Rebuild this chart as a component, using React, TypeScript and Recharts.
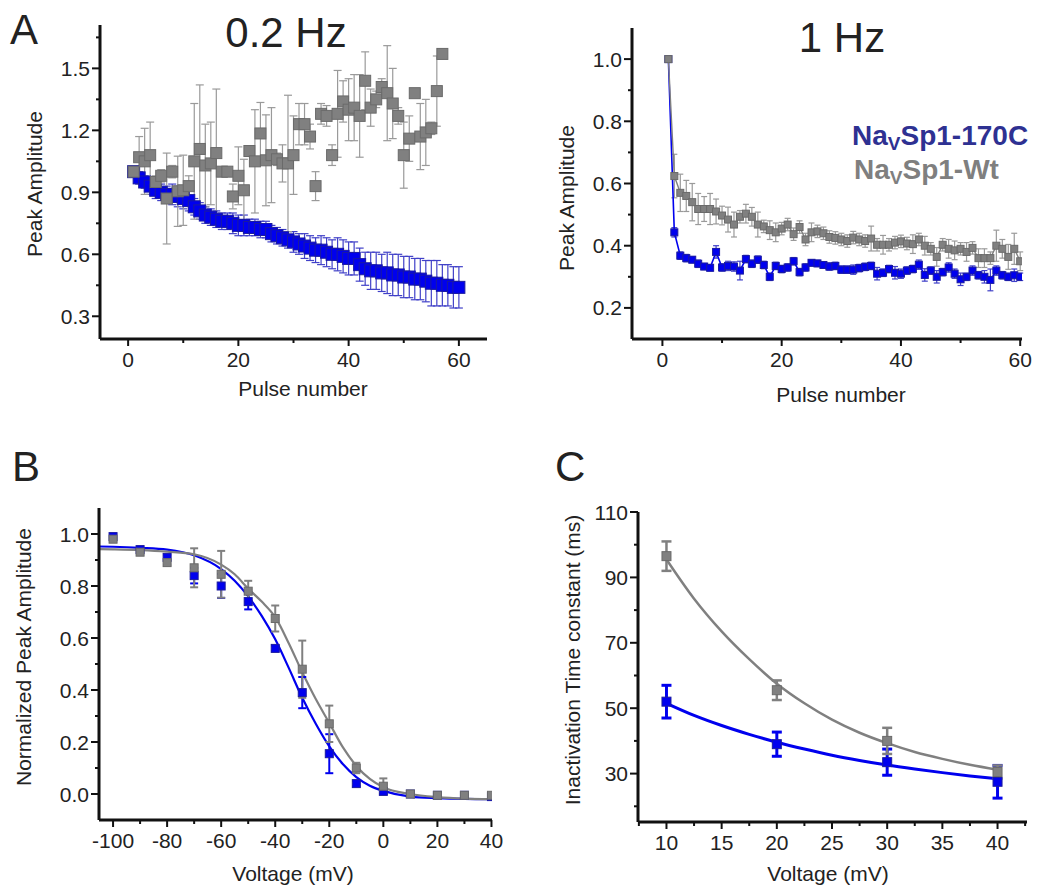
import React from "react";
import { ComposedChart, Scatter, Line, XAxis, YAxis, ErrorBar } from "recharts";

const FONT = '"Liberation Sans", Arial, Helvetica, sans-serif';
const BLUE = "#0000ee";
const BLUE_EDGE = "#1a1aa0";
const BLUE_BAR = "#4040c8";
const GRAY = "#808080";
const GRAY_EDGE = "#6a6a6a";
const GRAY_BAR = "#9a9a9a";

// ---- panel A, 0.2 Hz ----
const pulses = [
  1, 2, 3, 4, 5, 6, 7, 8, 9, 10, 11, 12, 13, 14, 15, 16, 17, 18, 19, 20,
  21, 22, 23, 24, 25, 26, 27, 28, 29, 30, 31, 32, 33, 34, 35, 36, 37, 38, 39, 40,
  41, 42, 43, 44, 45, 46, 47, 48, 49, 50, 51, 52, 53, 54, 55, 56, 57, 58, 59, 60,
];
const slowMut = [
  1.0, 0.97, 0.95, 0.93, 0.91, 0.9, 0.89, 0.89, 0.88, 0.87, 0.86, 0.83, 0.81, 0.79, 0.78,
  0.77, 0.76, 0.76, 0.75, 0.74, 0.74, 0.73, 0.73, 0.72, 0.72, 0.7, 0.69, 0.68, 0.67, 0.66,
  0.65, 0.64, 0.63, 0.62, 0.62, 0.61, 0.6, 0.6, 0.59, 0.58, 0.58, 0.55, 0.53, 0.52, 0.52,
  0.51, 0.51, 0.5, 0.5, 0.49, 0.49, 0.48, 0.48, 0.47, 0.46, 0.46, 0.45, 0.45, 0.44, 0.44,
];
const slowMutErr = [
  0, 0.03, 0.03, 0.04, 0.04, 0.04, 0.04, 0.05, 0.05, 0.05, 0.05, 0.04, 0.04, 0.04, 0.04,
  0.04, 0.04, 0.04, 0.05, 0.05, 0.05, 0.04, 0.04, 0.04, 0.04, 0.04, 0.04, 0.04, 0.04, 0.05,
  0.05, 0.06, 0.06, 0.06, 0.07, 0.07, 0.07, 0.08, 0.08, 0.08, 0.08, 0.08, 0.08, 0.09, 0.09,
  0.09, 0.1, 0.1, 0.1, 0.1, 0.1, 0.1, 0.1, 0.1, 0.11, 0.11, 0.1, 0.1, 0.1, 0.1,
];
const slowWt = [
  1.0, 1.07, 1.05, 1.08, 0.95, 0.98, 0.87, 1.0, 0.905, 0.91, 0.93, 1.05, 1.11, 1.03, 1.04,
  1.09, 1.0, 1.0, 0.88, 0.98, 0.91, 1.1, 1.05, 1.185, 1.055, 1.08, 1.06, 1.04, 1.04, 1.08,
  1.23, 1.23, 1.17, 0.93, 1.28, 1.27, 1.08, 1.28, 1.34, 1.3, 1.31, 1.27, 1.44, 1.31, 1.35,
  1.41, 1.38, 1.33, 1.27, 1.08, 1.16, 1.38, 1.17, 1.19, 1.21, 1.39, 1.57,
];
const slowWtErr = [
  0, 0.1, 0.16, 0.16, 0.03, 0.03, 0.22, 0.03, 0.17, 0.17, 0.05, 0.28, 0.31, 0.2, 0.2,
  0.31, 0.02, 0.02, 0.06, 0.14, 0.15, 0.02, 0.25, 0.15, 0.22, 0.23, 0.03, 0.09, 0.33, 0.19,
  0.1, 0.1, 0.06, 0.07, 0.05, 0.05, 0.05, 0.21, 0.1, 0.15, 0.16, 0.2, 0.14, 0.09, 0.04,
  0.04, 0.23, 0.17, 0.04, 0.16, 0.11, 0.01, 0.16, 0.16, 0.03, 0.17, 0,
];

// ---- panel A, 1 Hz ----
const fastMut = [
  1.0, 0.443, 0.368, 0.36, 0.355, 0.342, 0.333, 0.329, 0.38, 0.33, 0.335, 0.333, 0.32, 0.357, 0.342,
  0.355, 0.338, 0.3, 0.335, 0.325, 0.33, 0.35, 0.315, 0.33, 0.345, 0.343, 0.338, 0.333, 0.335, 0.323,
  0.323, 0.323, 0.328, 0.332, 0.335, 0.31, 0.313, 0.325, 0.313, 0.31, 0.32, 0.325, 0.339, 0.306, 0.32,
  0.3, 0.315, 0.33, 0.31, 0.292, 0.3, 0.32, 0.305, 0.3, 0.29, 0.32, 0.305, 0.3, 0.305, 0.3,
];
const fastMutErr = [
  0, 0.015, 0.012, 0.012, 0.01, 0.012, 0.01, 0.01, 0.02, 0.012, 0.015, 0.015, 0.03, 0.012, 0.012,
  0.012, 0.012, 0.012, 0.012, 0.012, 0.012, 0.012, 0.012, 0.012, 0.01, 0.01, 0.01, 0.012, 0.012, 0.012,
  0.012, 0.015, 0.012, 0.012, 0.012, 0.02, 0.012, 0.012, 0.02, 0.015, 0.012, 0.012, 0.015, 0.02, 0.012,
  0.02, 0.012, 0.015, 0.015, 0.02, 0.012, 0.015, 0.012, 0.02, 0.035, 0.015, 0.012, 0.012, 0.02, 0.012,
];
const fastWt = [
  1.0, 0.624, 0.57, 0.56, 0.54, 0.518, 0.518, 0.518, 0.51, 0.497, 0.484, 0.468, 0.493, 0.503, 0.493,
  0.468, 0.462, 0.45, 0.443, 0.455, 0.468, 0.437, 0.46, 0.42, 0.443, 0.446, 0.44, 0.428, 0.425, 0.42,
  0.415, 0.426, 0.42, 0.415, 0.423, 0.403, 0.403, 0.403, 0.41, 0.414, 0.407, 0.405, 0.42, 0.4, 0.39,
  0.364, 0.403, 0.39, 0.385, 0.39, 0.38, 0.393, 0.36, 0.36, 0.36, 0.4, 0.39, 0.364, 0.39, 0.35,
];
const fastWtErr = [
  0, 0.07, 0.06, 0.05, 0.06, 0.05, 0.04, 0.05, 0.04, 0.03, 0.04, 0.04, 0.02, 0.03, 0.03,
  0.04, 0.02, 0.03, 0.03, 0.02, 0.02, 0.02, 0.02, 0.02, 0.03, 0.02, 0.02, 0.02, 0.02, 0.02,
  0.02, 0.02, 0.02, 0.02, 0.04, 0.02, 0.03, 0.02, 0.02, 0.02, 0.02, 0.03, 0.02, 0.03, 0.02,
  0.03, 0.02, 0.03, 0.03, 0.02, 0.03, 0.02, 0.03, 0.03, 0.02, 0.05, 0.03, 0.04, 0.05, 0.03,
];

// ---- panel B, steady-state inactivation ----
const volts = [-100, -90, -80, -70, -60, -50, -40, -30, -20, -10, 0, 10, 20, 30, 40];
const ssMut = [0.99, 0.94, 0.91, 0.84, 0.8, 0.74, 0.56, 0.39, 0.155, 0.04, 0.01, 0.0, -0.005, -0.005, -0.01];
const ssMutErr = [0.01, 0.01, 0.01, 0.03, 0.046, 0.03, 0.01, 0.06, 0.075, 0.01, 0.01, 0, 0, 0, 0];
const ssWt = [0.98, 0.93, 0.89, 0.87, 0.845, 0.78, 0.675, 0.48, 0.27, 0.1, 0.03, 0.0, -0.005, -0.005, -0.005];
const ssWtErr = [0.01, 0.01, 0.01, 0.075, 0.09, 0.04, 0.05, 0.11, 0.07, 0.02, 0.03, 0, 0, 0, 0];
const fitVolts = [-105, -100, -90, -80, -70, -60, -55, -50, -45, -40, -35, -30, -25, -20, -15, -10, -5, 0, 10, 20, 30, 40];
const ssMutFit = [0.952, 0.951, 0.947, 0.94, 0.918, 0.865, 0.82, 0.76, 0.685, 0.595, 0.485, 0.37, 0.27, 0.183, 0.115, 0.065, 0.032, 0.012, -0.01, -0.016, -0.019, -0.02];
const ssWtFit = [0.942, 0.941, 0.938, 0.932, 0.922, 0.882, 0.845, 0.79, 0.74, 0.68, 0.58, 0.468, 0.365, 0.273, 0.18, 0.108, 0.058, 0.026, 0.0, -0.012, -0.018, -0.02];

// ---- panel C, inactivation time constant ----
const tauVolts = [10, 20, 30, 40];
const tauMut = [52, 39, 33.5, 27.5];
const tauMutErr = [5, 3.7, 4, 5];
const tauWt = [96.5, 55.5, 40, 30.5];
const tauWtErr = [4.5, 3, 4, 2];
const tauFitVolts = [10, 12.5, 15, 17.5, 20, 22.5, 25, 27.5, 30, 32.5, 35, 37.5, 40];
const tauMutFit = [51.5, 47.8, 44.7, 42, 39.6, 37.5, 35.6, 34, 32.6, 31.4, 30.3, 29.3, 28.4];
const tauWtFit = [95.5, 83.5, 73.5, 65, 57.5, 51.5, 46.5, 42.5, 39.3, 36.6, 34.5, 32.7, 31.2];

const pts = (xs: number[], ys: number[], es?: number[]) =>
  ys.map((y, i) => ({ x: xs[i], y, e: es ? es[i] : 0 }));

const isIn = (arr: number[], v: number) => arr.some((m) => Math.abs(m - v) < 1e-6);

const TICK_FS = 21;

function makeYTick(major: number[], fmt: (v: number) => string) {
  return (p: any) => {
    const v = p.payload.value;
    const big = isIn(major, v);
    const len = big ? 8 : 4;
    return (
      <g>
        <line x1={p.x - len} x2={p.x} y1={p.y} y2={p.y} stroke="#111" strokeWidth={2} />
        {big && (
          <text x={p.x - 10} y={p.y} dy="0.36em" textAnchor="end" fontSize={TICK_FS} fontFamily={FONT} fill="#222">
            {fmt(v)}
          </text>
        )}
      </g>
    );
  };
}

function makeXTick(major: number[], fmt: (v: number) => string) {
  return (p: any) => {
    const v = p.payload.value;
    const big = isIn(major, v);
    const len = big ? 7 : 4;
    return (
      <g>
        <line x1={p.x} x2={p.x} y1={p.y} y2={p.y + len} stroke="#111" strokeWidth={2} />
        {big && (
          <text x={p.x} y={p.y + 28} textAnchor="middle" fontSize={TICK_FS} fontFamily={FONT} fill="#222">
            {fmt(v)}
          </text>
        )}
      </g>
    );
  };
}

const square = (s: number, fill: string, stroke: string) => (p: any) =>
  p.cx == null ? <g /> : (
    <rect x={p.cx - s / 2} y={p.cy - s / 2} width={s} height={s} fill={fill} stroke={stroke} strokeWidth={1} />
  );

interface PanelProps {
  x0: number;
  x1: number;
  y0: number;
  y1: number;
  xDomain: [number, number];
  yDomain: [number, number];
  xTicks: number[];
  xMajor: number[];
  yTicks: number[];
  yMajor: number[];
  yFmt: (v: number) => string;
  children: React.ReactNode;
}

function Panel({ x0, x1, y0, y1, xDomain, yDomain, xTicks, xMajor, yTicks, yMajor, yFmt, children }: PanelProps) {
  const w = x1 - x0 + 70 + 15;
  const h = y1 - y0 + 10 + 50;
  return (
    <div style={{ position: "absolute", left: x0 - 70, top: y0 - 10 }}>
      <ComposedChart width={w} height={h} margin={{ top: 10, right: 15, left: 0, bottom: 0 }}>
        <XAxis
          type="number"
          dataKey="x"
          domain={xDomain}
          allowDataOverflow
          ticks={xTicks}
          interval={0}
          tickSize={0}
          tickMargin={0}
          tickLine={false}
          axisLine={{ stroke: "#111", strokeWidth: 3 }}
          tick={makeXTick(xMajor, (v) => String(v))}
          height={50}
        />
        <YAxis
          type="number"
          dataKey="y"
          domain={yDomain}
          allowDataOverflow
          ticks={yTicks}
          interval={0}
          tickSize={0}
          tickMargin={0}
          tickLine={false}
          axisLine={{ stroke: "#111", strokeWidth: 3 }}
          tick={makeYTick(yMajor, yFmt)}
          width={70}
        />
        {children}
      </ComposedChart>
    </div>
  );
}

const t1 = (v: number) => v.toFixed(1);

export default function App() {
  const label = { fontSize: 21, fontFamily: FONT, fill: "#222" };
  const big = { fontSize: 42, fontFamily: FONT, fill: "#222" };
  return (
    <div style={{ position: "absolute", left: 0, top: 0, width: 1039, height: 888, background: "#fff", overflow: "hidden" }}>
      {/* A: 0.2 Hz */}
      <Panel
        x0={100} x1={487} y0={25} y1={339}
        xDomain={[-5.1, 65.1]} yDomain={[0.19, 1.71]}
        xTicks={[0, 10, 20, 30, 40, 50, 60]} xMajor={[0, 20, 40, 60]}
        yTicks={[0.3, 0.45, 0.6, 0.75, 0.9, 1.05, 1.2, 1.35, 1.5, 1.65]} yMajor={[0.3, 0.6, 0.9, 1.2, 1.5]}
        yFmt={t1}
      >
        <Scatter data={pts(pulses, slowMut, slowMutErr)} shape={square(12, BLUE, BLUE_EDGE)} isAnimationActive={false}>
          <ErrorBar dataKey="e" direction="y" width={4} stroke={BLUE_BAR} strokeWidth={1.2} />
        </Scatter>
        <Scatter data={pts(pulses, slowWt, slowWtErr)} shape={square(11, GRAY, GRAY_EDGE)} isAnimationActive={false}>
          <ErrorBar dataKey="e" direction="y" width={4} stroke={GRAY_BAR} strokeWidth={1.2} />
        </Scatter>
      </Panel>

      {/* A: 1 Hz */}
      <Panel
        x0={632} x1={1022} y0={28} y1={339}
        xDomain={[-5.1, 60.3]} yDomain={[0.1, 1.1]}
        xTicks={[0, 10, 20, 30, 40, 50, 60]} xMajor={[0, 20, 40, 60]}
        yTicks={[0.2, 0.3, 0.4, 0.5, 0.6, 0.7, 0.8, 0.9, 1.0]} yMajor={[0.2, 0.4, 0.6, 0.8, 1.0]}
        yFmt={t1}
      >
        <Scatter
          data={pts(pulses, fastMut, fastMutErr)}
          shape={square(7, BLUE, BLUE_EDGE)}
          line={{ stroke: BLUE, strokeWidth: 1.6 }}
          isAnimationActive={false}
        >
          <ErrorBar dataKey="e" direction="y" width={3} stroke={BLUE_BAR} strokeWidth={1.2} />
        </Scatter>
        <Scatter
          data={pts(pulses, fastWt, fastWtErr)}
          shape={square(7, GRAY, GRAY_EDGE)}
          line={{ stroke: GRAY, strokeWidth: 1.4 }}
          isAnimationActive={false}
        >
          <ErrorBar dataKey="e" direction="y" width={3} stroke={GRAY_BAR} strokeWidth={1.2} />
        </Scatter>
      </Panel>

      {/* B */}
      <Panel
        x0={99} x1={492} y0={508} y1={820}
        xDomain={[-105.2, 40.2]} yDomain={[-0.1, 1.1]}
        xTicks={[-100, -90, -80, -70, -60, -50, -40, -30, -20, -10, 0, 10, 20, 30, 40]}
        xMajor={[-100, -80, -60, -40, -20, 0, 20, 40]}
        yTicks={[0, 0.1, 0.2, 0.3, 0.4, 0.5, 0.6, 0.7, 0.8, 0.9, 1.0]} yMajor={[0, 0.2, 0.4, 0.6, 0.8, 1.0]}
        yFmt={t1}
      >
        <Line data={pts(fitVolts, ssMutFit)} dataKey="y" type="monotone" dot={false} stroke={BLUE} strokeWidth={2.2} isAnimationActive={false} />
        <Line data={pts(fitVolts, ssWtFit)} dataKey="y" type="monotone" dot={false} stroke={GRAY} strokeWidth={2.2} isAnimationActive={false} />
        <Scatter data={pts(volts, ssMut, ssMutErr)} shape={square(8, BLUE, BLUE_EDGE)} isAnimationActive={false}>
          <ErrorBar dataKey="e" direction="y" width={4} stroke={BLUE} strokeWidth={2} />
        </Scatter>
        <Scatter data={pts(volts, ssWt, ssWtErr)} shape={square(8, GRAY, GRAY_EDGE)} isAnimationActive={false}>
          <ErrorBar dataKey="e" direction="y" width={4} stroke={GRAY} strokeWidth={2} />
        </Scatter>
      </Panel>

      {/* C */}
      <Panel
        x0={638} x1={1027} y0={512} y1={822}
        xDomain={[7.42, 42.67]} yDomain={[15.2, 110]}
        xTicks={[7.5, 10, 12.5, 15, 17.5, 20, 22.5, 25, 27.5, 30, 32.5, 35, 37.5, 40, 42.5]}
        xMajor={[10, 15, 20, 25, 30, 35, 40]}
        yTicks={[20, 30, 40, 50, 60, 70, 80, 90, 100, 110]} yMajor={[30, 50, 70, 90, 110]}
        yFmt={(v) => String(v)}
      >
        <Line data={pts(tauFitVolts, tauMutFit)} dataKey="y" type="monotone" dot={false} stroke={BLUE} strokeWidth={3} isAnimationActive={false} />
        <Line data={pts(tauFitVolts, tauWtFit)} dataKey="y" type="monotone" dot={false} stroke={GRAY} strokeWidth={2.5} isAnimationActive={false} />
        <Scatter data={pts(tauVolts, tauMut, tauMutErr)} shape={square(9, BLUE, BLUE_EDGE)} isAnimationActive={false}>
          <ErrorBar dataKey="e" direction="y" width={5} stroke={BLUE} strokeWidth={3} />
        </Scatter>
        <Scatter data={pts(tauVolts, tauWt, tauWtErr)} shape={square(9, GRAY, GRAY_EDGE)} isAnimationActive={false}>
          <ErrorBar dataKey="e" direction="y" width={5} stroke={GRAY} strokeWidth={2.5} />
        </Scatter>
      </Panel>

      {/* titles, axis labels, legend */}
      <svg width={1039} height={888} style={{ position: "absolute", left: 0, top: 0, pointerEvents: "none" }}>
        <text x={10} y={44} {...big}>A</text>
        <text x={12} y={481} {...big}>B</text>
        <text x={555} y={481} {...big}>C</text>
        <text x={286} y={47} textAnchor="middle" {...big}>0.2 Hz</text>
        <text x={842} y={52} textAnchor="middle" {...big}>1 Hz</text>

        <text x={303} y={396} textAnchor="middle" {...label}>Pulse number</text>
        <text x={841} y={402} textAnchor="middle" {...label}>Pulse number</text>
        <text x={293} y={881} textAnchor="middle" {...label}>Voltage (mV)</text>
        <text x={828} y={881} textAnchor="middle" {...label}>Voltage (mV)</text>

        <text transform="translate(42,184) rotate(-90)" textAnchor="middle" {...label}>Peak Amplitude</text>
        <text transform="translate(574,198) rotate(-90)" textAnchor="middle" {...label}>Peak Amplitude</text>
        <text transform="translate(31,657) rotate(-90)" textAnchor="middle" {...label}>Normalized Peak Amplitude</text>
        <text transform="translate(580,660) rotate(-90)" textAnchor="middle" {...label}>Inactivation Time constant (ms)</text>

        <text x={852} y={145} fontSize={28} fontWeight="bold" fontFamily={FONT} fill="#2e3192">
          Na<tspan fontSize={19} dy={5}>V</tspan><tspan dy={-5}>Sp1-170C</tspan>
        </text>
        <text x={854} y={179} fontSize={28} fontWeight="bold" fontFamily={FONT} fill="#7f7f7f">
          Na<tspan fontSize={19} dy={5}>V</tspan><tspan dy={-5}>Sp1-Wt</tspan>
        </text>
      </svg>
    </div>
  );
}
